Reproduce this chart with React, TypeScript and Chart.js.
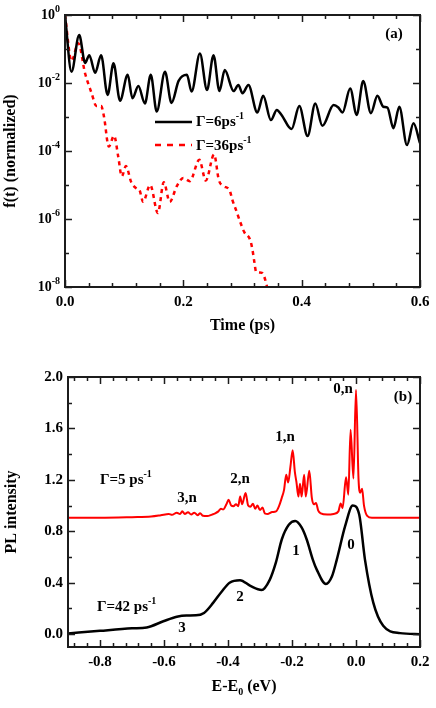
import React, { useEffect, useRef } from "react";
import { Chart, registerables } from "chart.js";

Chart.register(...registerables);

const SERIF = '"Liberation Serif", "Times New Roman", Times, serif';

// ---------------- Panel (a): f(t) vs time ----------------
const timeG6 = [
  0, 0.011, 0.024, 0.034, 0.041, 0.051, 0.061, 0.072, 0.082, 0.093,
  0.106, 0.114, 0.124, 0.135, 0.145, 0.155, 0.169, 0.180, 0.192, 0.206,
  0.214, 0.228, 0.240, 0.251, 0.261, 0.270, 0.285, 0.293, 0.300, 0.310,
  0.325, 0.335, 0.348, 0.358, 0.366, 0.383, 0.396, 0.410, 0.423, 0.435,
  0.454, 0.462, 0.469, 0.482, 0.493, 0.504, 0.517, 0.528, 0.538, 0.545,
  0.555, 0.565, 0.578, 0.589, 0.600,
];
const fG6 = [
  1, 0.0214, 0.257, 0.0389, 0.066, 0.020, 0.066, 0.00447, 0.038, 0.0030,
  0.0174, 0.00355, 0.0081, 0.0025, 0.0174, 0.00145, 0.0214, 0.0026, 0.0115, 0.0174,
  0.0056, 0.074, 0.0062, 0.066, 0.0058, 0.024, 0.0058, 0.0087, 0.0050, 0.0087,
  0.00135, 0.0042, 0.00081, 0.00162, 0.00115, 0.00044, 0.0021, 0.000275, 0.0025, 0.00055,
  0.00224, 0.0019, 0.00135, 0.0069, 0.00115, 0.0115, 0.0013, 0.0042, 0.0020, 0.0019,
  0.00047, 0.0020, 0.00015, 0.00065, 0.00017,
];
const timeG36 = [
  0, 0.011, 0.0225, 0.034, 0.045, 0.053, 0.061, 0.066, 0.074, 0.083,
  0.090, 0.096, 0.103, 0.112, 0.121, 0.126, 0.132, 0.144, 0.157, 0.167,
  0.177, 0.189, 0.200, 0.211, 0.227, 0.238, 0.252, 0.260, 0.268, 0.278,
  0.283, 0.290, 0.296, 0.303, 0.313, 0.317, 0.320, 0.323, 0.333, 0.340,
  0.346,
];
const fG36 = [
  1, 0.045, 0.148, 0.019, 0.005, 0.0021, 0.0021, 0.001, 1.35e-4, 2.8e-4,
  6.8e-5, 1.8e-5, 3.6e-5, 1.2e-5, 7.9e-6, 7.0e-6, 3.2e-6, 1.0e-5, 1.5e-6, 1.2e-5,
  3.2e-6, 9.3e-6, 1.6e-5, 1.3e-5, 5.5e-5, 1.35e-5, 7.9e-5, 1.4e-5, 9.3e-6, 7.1e-6,
  3.6e-6, 1.66e-6, 8.3e-7, 4.1e-7, 2.4e-7, 1.2e-7, 5.5e-8, 2.8e-8, 2.6e-8, 1.3e-8,
  4e-9,
];
const timeTicks = [0, 0.2, 0.4, 0.6];
const timeTickLabels = ["0.0", "0.2", "0.4", "0.6"];
const fTickExponents = [0, -2, -4, -6, -8];
const fMinorExponents = [-1, -3, -5, -7];

// ---------------- Panel (b): PL intensity vs E-E0 ----------------
const energyG5 = [
  -0.9, -0.8, -0.7, -0.64, -0.61, -0.585, -0.575, -0.56, -0.55, -0.543,
  -0.535, -0.525, -0.515, -0.505, -0.495, -0.487, -0.478, -0.465, -0.45, -0.44,
  -0.43, -0.422, -0.415, -0.405, -0.398, -0.39, -0.383, -0.375, -0.368, -0.362,
  -0.356, -0.345, -0.337, -0.33, -0.322, -0.315, -0.308, -0.3, -0.292, -0.285,
  -0.275, -0.262, -0.25, -0.24, -0.232, -0.225, -0.218, -0.212, -0.205, -0.198,
  -0.191, -0.186, -0.18, -0.175, -0.17, -0.162, -0.157, -0.146, -0.138, -0.132,
  -0.125, -0.118, -0.11, -0.09, -0.07, -0.055, -0.048, -0.042, -0.031, -0.024,
  -0.017, -0.008, 0.0, 0.008, 0.013, 0.019, 0.025, 0.035, 0.05, 0.2,
];
const plG5 = [
  0.905, 0.905, 0.91, 0.915, 0.925, 0.935, 0.928, 0.945, 0.935, 0.955,
  0.935, 0.948, 0.93, 0.945, 0.925, 0.94, 0.92, 0.918, 0.93, 0.94,
  0.955, 0.975, 0.97, 1.01, 1.045, 1.0, 0.995, 1.01, 0.995, 1.07,
  1.01, 1.098, 1.0, 0.99, 1.015, 0.975, 1.0, 0.965, 0.985, 0.94,
  0.935, 0.95, 0.955, 1.0, 1.06, 1.12, 1.24, 1.18, 1.3, 1.43,
  1.26, 1.18, 1.07, 1.17, 1.07, 1.24, 1.07, 1.27, 1.06, 1.01,
  1.02, 0.96, 0.94, 0.93, 0.935, 0.955, 1.016, 0.98, 1.22, 1.085,
  1.59, 1.21, 1.9, 1.2, 1.1, 1.13, 1.0, 0.92, 0.905, 0.905,
];
const energyG42 = [
  -0.9, -0.8, -0.7, -0.654, -0.602, -0.56, -0.53, -0.5, -0.475, -0.446,
  -0.42, -0.395, -0.3625, -0.33, -0.295, -0.27, -0.25, -0.232, -0.21, -0.19,
  -0.17, -0.154, -0.135, -0.123, -0.094, -0.075, -0.06, -0.034, -0.01, 0.01,
  0.028, 0.054, 0.085, 0.1375, 0.2,
];
const plG42 = [
  0.005, 0.026, 0.045, 0.052, 0.1, 0.135, 0.145, 0.146, 0.165, 0.245,
  0.33, 0.4, 0.42, 0.375, 0.343, 0.42, 0.56, 0.736, 0.85, 0.88,
  0.83, 0.736, 0.58, 0.504, 0.39, 0.45, 0.58, 0.84, 1.0, 0.93,
  0.58, 0.245, 0.065, 0.008, 0.0,
];
const energyTicks = [-0.8, -0.6, -0.4, -0.2, 0.0, 0.2];
const energyTickLabels = ["-0.8", "-0.6", "-0.4", "-0.2", "0.0", "0.2"];
const plTicks = [0, 0.4, 0.8, 1.2, 1.6, 2.0];
const plTickLabels = ["0.0", "0.4", "0.8", "1.2", "1.6", "2.0"];

// ---------------- helpers ----------------
type Part = { t: string; size: number; dy: number };

function font(size: number) {
  return `bold ${size}px ${SERIF}`;
}

function drawRich(ctx: CanvasRenderingContext2D, parts: Part[], x: number, y: number, align: "left" | "center" | "right") {
  let w = 0;
  for (const p of parts) {
    ctx.font = font(p.size);
    w += ctx.measureText(p.t).width;
  }
  let cx = align === "left" ? x : align === "right" ? x - w : x - w / 2;
  ctx.textAlign = "left";
  ctx.textBaseline = "middle";
  for (const p of parts) {
    ctx.font = font(p.size);
    ctx.fillText(p.t, cx, y + p.dy);
    cx += ctx.measureText(p.t).width;
  }
}

function text(ctx: CanvasRenderingContext2D, s: string, x: number, y: number, size: number, align: CanvasTextAlign = "center") {
  ctx.font = font(size);
  ctx.textAlign = align;
  ctx.textBaseline = "middle";
  ctx.fillText(s, x, y);
}

function drawFrame(chart: any, xMajor: number[], xMinor: number[], yMajor: number[], yMinor: number[]) {
  const ctx: CanvasRenderingContext2D = chart.ctx;
  const a = chart.chartArea;
  const xs = chart.scales.x;
  const ys = chart.scales.y;
  ctx.save();
  ctx.strokeStyle = "#1c1c1c";
  ctx.lineWidth = 1.5;
  ctx.beginPath();
  const seg = (x1: number, y1: number, x2: number, y2: number) => {
    ctx.moveTo(x1, y1);
    ctx.lineTo(x2, y2);
  };
  const xt = (vals: number[], len: number) => {
    for (const v of vals) {
      const p = Math.round(xs.getPixelForValue(v)) + 0.5;
      seg(p, a.bottom, p, a.bottom - len);
      seg(p, a.top, p, a.top + len);
    }
  };
  const yt = (vals: number[], len: number) => {
    for (const v of vals) {
      const p = Math.round(ys.getPixelForValue(v)) + 0.5;
      seg(a.left, p, a.left + len, p);
      seg(a.right, p, a.right - len, p);
    }
  };
  xt(xMajor, 7);
  xt(xMinor, 4);
  yt(yMajor, 7);
  yt(yMinor, 4);
  ctx.stroke();
  ctx.lineWidth = 2;
  ctx.strokeRect(a.left, a.top, a.right - a.left, a.bottom - a.top);
  ctx.restore();
}

function steps(from: number, to: number, step: number, skip: number[]) {
  const out: number[] = [];
  const n = Math.round((to - from) / step);
  for (let k = 0; k <= n; k++) {
    const v = +(from + k * step).toFixed(4);
    if (!skip.some((s) => Math.abs(s - v) < 1e-6)) out.push(v);
  }
  return out;
}

const TOP_H = 345;
const BOT_H = 363;

export default function App() {
  const refA = useRef<HTMLCanvasElement>(null);
  const refB = useRef<HTMLCanvasElement>(null);

  useEffect(() => {
    // ---------- Chart (a) ----------
    const pluginA = {
      id: "decorA",
      afterDraw(chart: any) {
        const ctx: CanvasRenderingContext2D = chart.ctx;
        const a = chart.chartArea;
        const xs = chart.scales.x;
        const ys = chart.scales.y;
        drawFrame(
          chart,
          timeTicks,
          steps(0, 0.6, 0.04, timeTicks),
          fTickExponents.map((e) => Math.pow(10, e)),
          fMinorExponents.map((e) => Math.pow(10, e))
        );
        ctx.save();
        ctx.fillStyle = "#000";
        timeTicks.forEach((v, i) => text(ctx, timeTickLabels[i], xs.getPixelForValue(v), 302, 15));
        fTickExponents.forEach((e) => {
          const p = ys.getPixelForValue(Math.pow(10, e));
          drawRich(ctx, [
            { t: "10", size: 14, dy: 0 },
            { t: e === 0 ? "0" : "-" + Math.abs(e), size: 10, dy: -6 },
          ], a.left - 5, p, "right");
        });
        text(ctx, "Time (ps)", (a.left + a.right) / 2, 326, 16);
        ctx.save();
        ctx.translate(11, (a.top + a.bottom) / 2);
        ctx.rotate(-Math.PI / 2);
        text(ctx, "f(t) (normalized)", 0, 0, 16);
        ctx.restore();
        text(ctx, "(a)", 394, 34, 15);
        // legend
        ctx.lineWidth = 2.5;
        ctx.strokeStyle = "#000";
        ctx.beginPath();
        ctx.moveTo(155, 122);
        ctx.lineTo(192, 122);
        ctx.stroke();
        ctx.strokeStyle = "#ff0000";
        ctx.setLineDash([6, 6]);
        ctx.beginPath();
        ctx.moveTo(155, 145);
        ctx.lineTo(192, 145);
        ctx.stroke();
        ctx.setLineDash([]);
        ctx.fillStyle = "#000";
        drawRich(ctx, [
          { t: "Γ=6ps", size: 15, dy: 0 },
          { t: "-1", size: 10, dy: -6 },
        ], 196, 122, "left");
        drawRich(ctx, [
          { t: "Γ=36ps", size: 15, dy: 0 },
          { t: "-1", size: 10, dy: -6 },
        ], 196, 146, "left");
        ctx.restore();
      },
    };

    const chartA = new Chart(refA.current as HTMLCanvasElement, {
      type: "line",
      data: {
        datasets: [
          {
            label: "Γ=6ps-1",
            data: timeG6.map((t, i) => ({ x: t, y: fG6[i] })),
            borderColor: "#000",
            borderWidth: 2.5,
            pointRadius: 0,
            cubicInterpolationMode: "monotone",
            fill: false,
          },
          {
            label: "Γ=36ps-1",
            data: timeG36.map((t, i) => ({ x: t, y: fG36[i] })),
            borderColor: "#ff0000",
            borderWidth: 2.5,
            borderDash: [4, 4],
            pointRadius: 0,
            cubicInterpolationMode: "monotone",
            fill: false,
          },
        ],
      },
      options: {
        responsive: false,
        animation: false,
        layout: { padding: { left: 65, right: 16, top: 15, bottom: TOP_H - 287 } },
        plugins: { legend: { display: false }, tooltip: { enabled: false } },
        scales: {
          x: { type: "linear", min: 0, max: 0.6, display: false },
          y: { type: "logarithmic", min: 1e-8, max: 1, display: false },
        },
      } as any,
      plugins: [pluginA],
    });

    // ---------- Chart (b) ----------
    const off = TOP_H;
    const pluginB = {
      id: "decorB",
      afterDraw(chart: any) {
        const ctx: CanvasRenderingContext2D = chart.ctx;
        const a = chart.chartArea;
        const xs = chart.scales.x;
        const ys = chart.scales.y;
        drawFrame(
          chart,
          energyTicks,
          steps(-0.88, 0.2, 0.04, energyTicks),
          plTicks,
          steps(0.2, 1.8, 0.4, [])
        );
        ctx.save();
        ctx.fillStyle = "#000";
        energyTicks.forEach((v, i) => text(ctx, energyTickLabels[i], xs.getPixelForValue(v), 662 - off, 15));
        plTicks.forEach((v, i) => text(ctx, plTickLabels[i], a.left - 5, ys.getPixelForValue(v), 15, "right"));
        drawRich(ctx, [
          { t: "E-E", size: 16, dy: 0 },
          { t: "0", size: 10, dy: 5 },
          { t: " (eV)", size: 16, dy: 0 },
        ], (a.left + a.right) / 2, 687 - off, "center");
        ctx.save();
        ctx.translate(12, (a.top + a.bottom) / 2);
        ctx.rotate(-Math.PI / 2);
        text(ctx, "PL intensity", 0, 0, 16);
        ctx.restore();
        text(ctx, "(b)", 403, 397 - off, 15);
        drawRich(ctx, [
          { t: "Γ=5 ps", size: 15, dy: 0 },
          { t: "-1", size: 10, dy: -6 },
        ], 100, 480 - off, "left");
        drawRich(ctx, [
          { t: "Γ=42 ps", size: 15, dy: 0 },
          { t: "-1", size: 10, dy: -6 },
        ], 97, 607 - off, "left");
        text(ctx, "3,n", 187, 498 - off, 15);
        text(ctx, "2,n", 240, 479 - off, 15);
        text(ctx, "1,n", 285, 437 - off, 15);
        text(ctx, "0,n", 343, 389 - off, 15);
        text(ctx, "3", 182, 628 - off, 15);
        text(ctx, "2", 240, 597 - off, 15);
        text(ctx, "1", 296, 551 - off, 15);
        text(ctx, "0", 351, 545 - off, 15);
        ctx.restore();
      },
    };

    const chartB = new Chart(refB.current as HTMLCanvasElement, {
      type: "line",
      data: {
        datasets: [
          {
            label: "Γ=5 ps-1",
            data: energyG5.map((e, i) => ({ x: e, y: plG5[i] })),
            borderColor: "#ff0000",
            borderWidth: 2,
            pointRadius: 0,
            cubicInterpolationMode: "monotone",
            fill: false,
          },
          {
            label: "Γ=42 ps-1",
            data: energyG42.map((e, i) => ({ x: e, y: plG42[i] })),
            borderColor: "#000",
            borderWidth: 2.5,
            pointRadius: 0,
            cubicInterpolationMode: "monotone",
            fill: false,
          },
        ],
      },
      options: {
        responsive: false,
        animation: false,
        layout: { padding: { left: 68, right: 16, top: 377 - off, bottom: BOT_H - (647 - off) } },
        plugins: { legend: { display: false }, tooltip: { enabled: false } },
        scales: {
          x: { type: "linear", min: -0.9, max: 0.2, display: false },
          y: { type: "linear", min: -0.1, max: 2.0, display: false },
        },
      } as any,
      plugins: [pluginB],
    });

    return () => {
      chartA.destroy();
      chartB.destroy();
    };
  }, []);

  return (
    <div style={{ position: "absolute", left: 0, top: 0, width: 436, height: 708, background: "#fff" }}>
      <canvas ref={refA} width={436} height={TOP_H} style={{ position: "absolute", left: 0, top: 0 }} />
      <canvas ref={refB} width={436} height={BOT_H} style={{ position: "absolute", left: 0, top: TOP_H }} />
    </div>
  );
}
